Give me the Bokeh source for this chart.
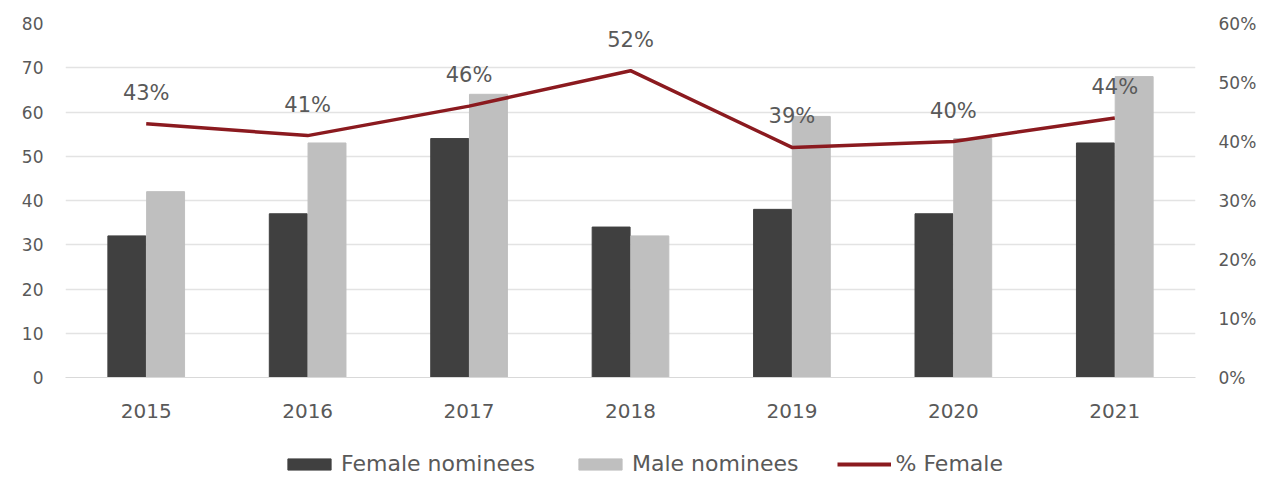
from bokeh.plotting import figure
from bokeh.layouts import column
from bokeh.models import (FactorRange, Range1d, LinearAxis, Legend, LegendItem,
                          ColumnDataSource, FixedTicker, NumeralTickFormatter)
from bokeh.transform import dodge
from bokeh.embed import file_html
from bokeh.resources import INLINE

years = ["2015", "2016", "2017", "2018", "2019", "2020", "2021"]
female = [32, 37, 54, 34, 38, 37, 53]
male = [42, 53, 64, 32, 59, 54, 68]
pct_female = [0.43, 0.41, 0.46, 0.52, 0.39, 0.40, 0.44]
pct_labels = ["43%", "41%", "46%", "52%", "39%", "40%", "44%"]
series_names = ["Female nominees", "Male nominees", "% Female"]

FONT = "DejaVu Sans"
TXT = "#595959"
C_F, C_M, C_L = "#404040", "#bfbfbf", "#8b1a1f"

src = ColumnDataSource(dict(year=years, female=female, male=male,
                            pct=pct_female, lab=pct_labels))

p = figure(width=1281, height=430, x_range=FactorRange(*years),
           y_range=Range1d(0, 80), output_backend="svg", toolbar_location=None,
           min_border_left=65, min_border_right=86, min_border_top=23,
           min_border_bottom=53, outline_line_color=None)
p.extra_y_ranges = {"pct": Range1d(0, 0.6)}

p.vbar(x=dodge("year", -0.12, range=p.x_range), top="female", width=0.235,
       source=src, color=C_F)
p.vbar(x=dodge("year", 0.12, range=p.x_range), top="male", width=0.235,
       source=src, color=C_M)
p.line(x="year", y="pct", source=src, y_range_name="pct",
       line_color=C_L, line_width=3.5)
p.text(x="year", y="pct", text="lab", source=src, y_range_name="pct",
       y_offset=-31, text_align="center", text_baseline="middle",
       text_font_size="21px", text_color=TXT, text_font={"value": FONT})

p.yaxis.ticker = FixedTicker(ticks=list(range(0, 81, 10)))
p.ygrid.ticker = FixedTicker(ticks=list(range(0, 81, 10)))
p.ygrid.grid_line_color = "#e3e3e3"
p.ygrid.grid_line_width = 1.5
p.xgrid.grid_line_color = None

ax_r = LinearAxis(y_range_name="pct", ticker=FixedTicker(ticks=[i / 10 for i in range(7)]),
                  formatter=NumeralTickFormatter(format="0%"))
p.add_layout(ax_r, "right")

for ax in [p.yaxis[0], ax_r]:
    ax.axis_line_color = None
    ax.major_tick_line_color = None
    ax.minor_tick_line_color = None
    ax.major_tick_out = 0
    ax.major_label_text_font_size = "17px"
    ax.major_label_text_color = TXT
    ax.major_label_text_font = FONT
p.yaxis[0].major_label_standoff = 22
ax_r.major_label_standoff = 23

p.xaxis.axis_line_color = "#d9d9d9"
p.xaxis.major_tick_line_color = None
p.xaxis.major_label_text_font_size = "20px"
p.xaxis.major_label_text_color = TXT
p.xaxis.major_label_text_font = FONT
p.xaxis.major_label_standoff = 20

# legend strip below the chart (its renderers are hidden; only the legend shows)
pl = figure(width=1281, height=49, x_range=FactorRange(*years), y_range=Range1d(-2, -1),
            x_axis_type=None, y_axis_type=None, min_border=0,
            outline_line_color=None, toolbar_location=None, output_backend="svg")
pl.grid.visible = False
r1 = pl.vbar(x="year", top="female", width=0.1, source=src, color=C_F, visible=False)
r2 = pl.vbar(x="year", top="male", width=0.1, source=src, color=C_M, visible=False)
r3 = pl.line(x="year", y="pct", source=src, line_color=C_L, line_width=4, visible=False)
legend = Legend(items=[LegendItem(label=series_names[0], renderers=[r1]),
                       LegendItem(label=series_names[1], renderers=[r2]),
                       LegendItem(label=series_names[2], renderers=[r3])],
                orientation="horizontal", location=(217, 3),
                label_text_font_size="22px", label_text_color=TXT,
                label_text_font=FONT, glyph_width=54, glyph_height=14,
                spacing=38, label_standoff=5, border_line_color=None,
                background_fill_alpha=0, margin=0, padding=0,
                inactive_fill_alpha=0)
pl.add_layout(legend, "center")

open("out.html", "w").write(file_html(column(p, pl, spacing=0), INLINE))
